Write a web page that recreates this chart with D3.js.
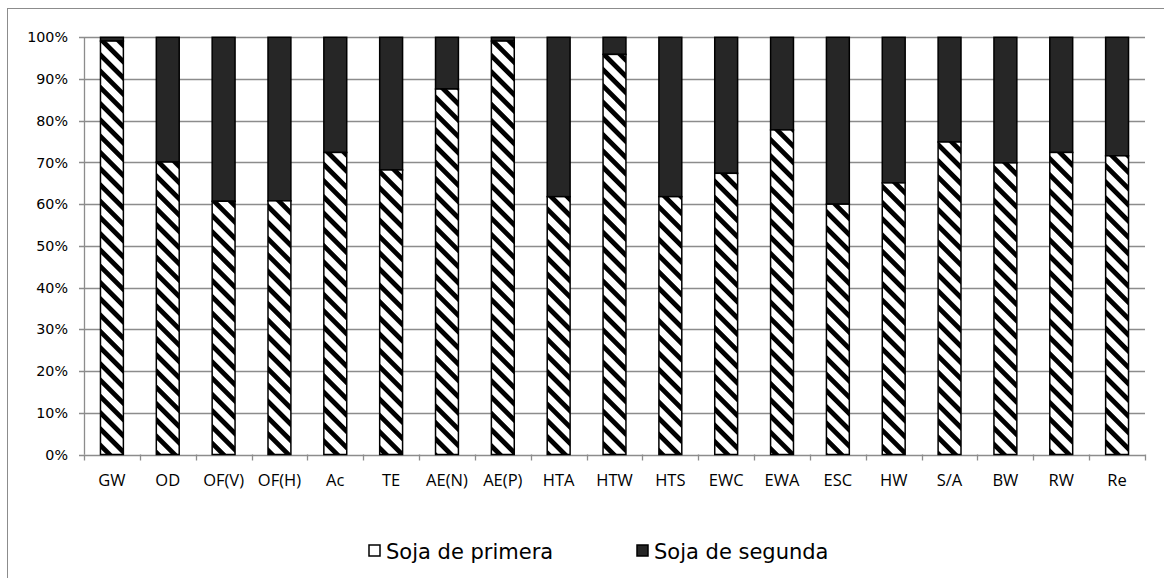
<!DOCTYPE html>
<html><head><meta charset="utf-8">
<script src="https://d3js.org/d3.v7.min.js"></script>
<style>body{margin:0;background:#fff}</style>
</head><body>
<svg id="chart" width="1164" height="578"></svg>
<script>
const categories = ["GW","OD","OF(V)","OF(H)","Ac","TE","AE(N)","AE(P)","HTA","HTW","HTS","EWC","EWA","ESC","HW","S/A","BW","RW","Re"];
const primera = [99.1,70.1,60.7,60.8,72.4,68.2,87.6,99.1,61.8,95.9,61.8,67.4,77.8,60.0,65.1,74.9,69.9,72.4,71.6];
const segunda = primera.map(v => 100 - v);
const seriesNames = ["Soja de primera","Soja de segunda"];
const yTicks = [0,10,20,30,40,50,60,70,80,90,100];

const svg = d3.select("#chart");
const plotLeft = 84, plotRight = 1145, plotTop = 37.3, plotBottom = 454.5;

const defs = svg.append("defs");
const pat = defs.append("pattern").attr("id","hatch").attr("patternUnits","userSpaceOnUse")
  .attr("width",11.5).attr("height",11.5).attr("patternTransform","rotate(45)");
pat.append("rect").attr("width",11.5).attr("height",11.5).attr("fill","#fff");
pat.append("rect").attr("width",11.5).attr("height",4.8).attr("fill","#000");

// frame
svg.append("rect").attr("x",7.5).attr("y",8.5).attr("width",1200).attr("height",600)
  .attr("fill","none").attr("stroke","#8c8c8c").attr("stroke-width",1);

const x = d3.scaleBand().domain(categories).range([plotLeft,plotRight]).paddingInner(0.59).paddingOuter(0.295);
const y = d3.scaleLinear().domain([0,100]).range([plotBottom,plotTop]);

// gridlines
svg.append("g").selectAll("line").data(yTicks).join("line")
  .attr("x1",plotLeft-5).attr("x2",plotRight)
  .attr("y1",d=>Math.round(y(d))+0.5).attr("y2",d=>Math.round(y(d))+0.5)
  .attr("stroke","#8c8c8c").attr("stroke-width",1.3);

// y axis line
svg.append("line").attr("x1",plotLeft+0.5).attr("x2",plotLeft+0.5).attr("y1",y(100)).attr("y2",y(0))
  .attr("stroke","#8c8c8c").attr("stroke-width",1.3);

// y labels
svg.append("g").selectAll("text").data(yTicks).join("text")
  .attr("x",68).attr("y",d=>y(d)).attr("dy","0.36em").attr("text-anchor","end")
  .attr("font-family","DejaVu Sans, Verdana, sans-serif").attr("font-size",14.3).attr("fill","#000")
  .text(d=>d+"%");

// x ticks at band boundaries
const step = x.step();
const bounds = d3.range(categories.length+1).map(i => plotLeft + i*step);
svg.append("g").selectAll("line").data(bounds).join("line")
  .attr("x1",d=>Math.round(d)+0.5).attr("x2",d=>Math.round(d)+0.5)
  .attr("y1",y(0)).attr("y2",y(0)+6)
  .attr("stroke","#8c8c8c").attr("stroke-width",1.3);

// bars
const bw = x.bandwidth();
const g = svg.append("g");
categories.forEach((c,i) => {
  g.append("rect").attr("x",x(c)).attr("width",bw)
    .attr("y",y(100)).attr("height",y(primera[i]) - y(100))
    .attr("fill","#262626").attr("stroke","#000").attr("stroke-width",1.5);
  g.append("rect").attr("x",x(c)).attr("width",bw)
    .attr("y",y(primera[i])).attr("height",y(0) - y(primera[i]))
    .attr("fill","url(#hatch)").attr("stroke","#000").attr("stroke-width",1.5);
});

// x labels
svg.append("g").selectAll("text").data(categories).join("text")
  .attr("x",d=>x(d)+bw/2).attr("y",486).attr("text-anchor","middle")
  .attr("font-family","Open Sans, Liberation Sans, sans-serif").attr("font-size",16.5).attr("fill","#000")
  .text(d=>d);

// legend
const legX = [369, 637];
seriesNames.forEach((n,i) => {
  svg.append("rect").attr("x",legX[i]).attr("y",545).attr("width",11).attr("height",11)
    .attr("fill", i===0 ? "#fff" : "#262626").attr("stroke","#000").attr("stroke-width",1.5);
  svg.append("text").attr("x",legX[i]+17).attr("y",559)
    .attr("font-family","DejaVu Sans, Verdana, sans-serif").attr("font-size",21).attr("fill","#000")
    .text(n);
});
</script>
</body></html>
